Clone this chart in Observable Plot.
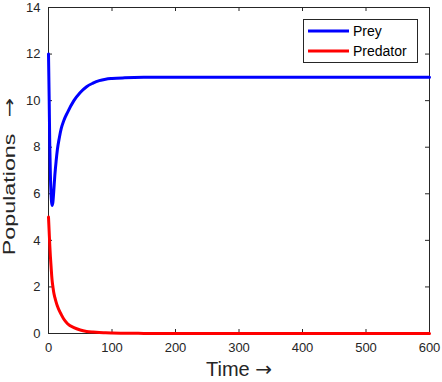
<!DOCTYPE html>
<html>
<head>
<meta charset="utf-8">
<script src="https://cdn.jsdelivr.net/npm/d3@7"></script>
<script src="https://cdn.jsdelivr.net/npm/@observablehq/plot@0.6"></script>
<style>
  body { margin: 0; background: #fff; }
  #chart { position: relative; width: 442px; height: 382px; }
</style>
</head>
<body>
<div id="chart"></div>
<script>
const time     = [0, 1, 2, 3, 4, 5, 6, 7, 8, 10, 12, 14, 17, 20, 24, 30, 40, 50, 60, 70, 80, 90, 100, 120, 150, 200, 300, 400, 500, 600];
const prey     = [12, 10.2, 8.1, 6.8, 6.0, 5.6, 5.5, 5.65, 6.0, 6.8, 7.4, 7.9, 8.4, 8.8, 9.14, 9.5, 10.0, 10.35, 10.6, 10.75, 10.86, 10.92, 10.95, 10.98, 11, 11, 11, 11, 11, 11];
const predator = [5, 4.4, 3.8, 3.3, 2.9, 2.5, 2.2, 2.0, 1.8, 1.55, 1.35, 1.18, 0.98, 0.82, 0.62, 0.42, 0.25, 0.15, 0.09, 0.06, 0.04, 0.03, 0.02, 0.01, 0.005, 0, 0, 0, 0, 0];
const xTicks = [0, 100, 200, 300, 400, 500, 600];
const yTicks = [0, 2, 4, 6, 8, 10, 12, 14];
const seriesNames = ["Prey", "Predator"];
const seriesColors = ["#0000ff", "#ff0000"];
const xLabelWord = "Time";
const yLabelWord = "Populations";
const arrow = "\u2192";
const xLabel = xLabelWord + " " + arrow;
const yLabel = yLabelWord + "\u2002\u2009" + arrow;

const rows = time.map((t, i) => ({t, prey: prey[i], predator: predator[i]}));

const W = 442, H = 382;
const mL = 48, mR = 13, mT = 7, mB = 49;
const plotH = H - mT - mB, plotW = W - mL - mR;
const ink = "#262626";
const font = "'Liberation Sans', Arial, Helvetica, sans-serif";
const arrowFont = "'DejaVu Sans', sans-serif";

const chart = Plot.plot({
  width: W,
  height: H,
  marginLeft: mL,
  marginRight: mR,
  marginTop: mT,
  marginBottom: mB,
  style: {fontFamily: font, color: ink, background: "#fff"},
  x: {domain: [0, 600], ticks: xTicks},
  y: {domain: [0, 14], ticks: yTicks},
  marks: [
    Plot.axisX(xTicks, {tickSize: 0, tickPadding: 9, fontSize: 13, label: null, color: ink}),
    Plot.axisY(yTicks, {tickSize: 0, tickPadding: 8, fontSize: 13, label: null, color: ink}),
    Plot.frame({stroke: ink, strokeWidth: 1}),
    Plot.ruleX(xTicks, {x: d => d, stroke: ink, insetTop: plotH - 4}),
    Plot.ruleX(xTicks, {x: d => d, stroke: ink, insetBottom: plotH - 4}),
    Plot.ruleY(yTicks, {y: d => d, stroke: ink, insetRight: plotW - 4}),
    Plot.ruleY(yTicks, {y: d => d, stroke: ink, insetLeft: plotW - 4}),
    Plot.line(rows, {x: "t", y: "prey", stroke: seriesColors[0], strokeWidth: 3, curve: "monotone-x"}),
    Plot.line(rows, {x: "t", y: "predator", stroke: seriesColors[1], strokeWidth: 3, curve: "monotone-x"}),
    Plot.text([xLabel], {text: d => d, frameAnchor: "bottom", textAnchor: "middle", lineAnchor: "middle", dy: 36, fontSize: 20, fill: ink}),
    Plot.text([yLabel], {text: d => d, frameAnchor: "left", textAnchor: "middle", lineAnchor: "middle", rotate: -90, dx: -39, dy: 6, fontSize: 17, fill: ink})
  ]
});

document.getElementById("chart").appendChild(chart);
const svgNode = chart.tagName.toLowerCase() === "svg" ? chart : chart.querySelector("svg");
const svg = d3.select(svgNode);

// Give the axis labels a long arrow glyph; stretch the y label along its length as in the reference
svg.selectAll("text").each(function () {
  const el = d3.select(this);
  const txt = this.textContent;
  if (txt === xLabel || txt === yLabel) {
    const isY = txt === yLabel;
    const word = isY ? yLabelWord : xLabelWord;
    const gap = isY ? "\u2002\u2009" : " ";
    el.text(null);
    el.append("tspan").text(word + gap);
    el.append("tspan").attr("font-family", arrowFont).text(arrow);
    if (isY) {
      const tr = el.attr("transform") || "";
      el.attr("transform", tr + " scale(1.37,1)");
    }
  }
});

// Legend (MATLAB-style box in the upper right)
const lg = svg.append("g").attr("font-family", font).attr("text-anchor", "start");
lg.append("rect").attr("x", 303.5).attr("y", 19.5).attr("width", 114).attr("height", 43)
  .attr("fill", "#fff").attr("stroke", ink).attr("stroke-width", 1);
seriesNames.forEach((name, i) => {
  const y = 31 + i * 20;
  lg.append("line").attr("x1", 308).attr("x2", 349).attr("y1", y).attr("y2", y)
    .attr("stroke", seriesColors[i]).attr("stroke-width", 3);
  lg.append("text").attr("x", 353).attr("y", y).attr("dy", "0.36em")
    .attr("font-size", 14).attr("fill", "#000").text(name);
});
</script>
</body>
</html>
